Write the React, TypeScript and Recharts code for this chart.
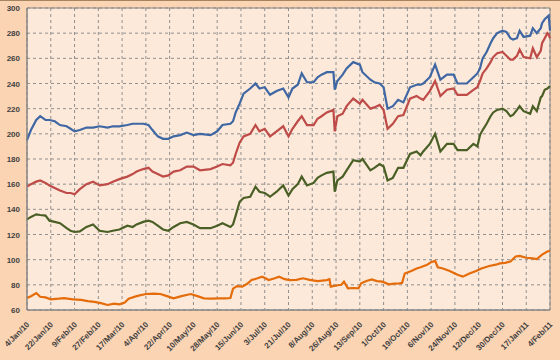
import { LineChart, Line, XAxis, YAxis, CartesianGrid, ReferenceArea } from 'recharts'

// day offsets from 4 Jan 2010, shared by the three upper series
const days = [
  0, 3, 7, 10, 14, 17, 21, 25, 30, 33, 36, 40, 45, 50, 55, 61, 65, 70, 76, 80,
  83, 88, 92, 95, 99, 103, 107, 111, 116, 121, 126, 131, 139, 144, 148, 154, 156, 158, 161, 164,
  169, 173, 176, 180, 184, 189, 194, 198, 201, 205, 208, 212, 217, 220, 223, 227, 232, 233, 235, 239,
  242, 247, 252, 254, 260, 263, 267, 270, 273, 277, 281, 285, 290, 295, 298, 300, 305, 309, 313, 318,
  323, 326, 333, 338, 341, 343, 345, 348, 351, 353, 356, 360, 363, 366, 368, 371, 373, 376, 381, 383,
  386, 389, 390, 392, 394, 395, 396,
]

const blueValues = [
  195, 203, 211, 214, 211, 211, 210, 207, 206, 204, 202, 203, 205, 205, 206, 205, 206, 206, 207, 208,
  208, 208, 207, 203, 198, 196, 196, 198, 199, 201, 199, 200, 199, 202, 207, 208, 210, 217, 224, 232,
  236, 240, 236, 237, 231, 234, 236, 229, 236, 239, 248, 241, 241, 245, 247, 249, 249, 235, 242, 247,
  252, 257, 255, 249, 243, 241, 240, 237, 220, 222, 227, 225, 237, 239, 239, 240, 245, 255, 243, 247,
  247, 240, 240, 245, 248, 252, 260, 265, 272, 276, 280, 282, 281, 276, 275, 276, 282, 277, 278, 284,
  280, 284, 288, 291, 293, 294, 282,
]

const redValues = [
  158, 160, 162, 163, 161, 159, 157, 155, 153, 153, 152, 156, 160, 162, 159, 160, 162, 164, 166, 168,
  170, 172, 173, 170, 168, 166, 167, 170, 171, 174, 174, 171, 172, 174, 176, 175, 177, 184, 193, 198,
  200, 207, 202, 204, 198, 202, 206, 198, 204, 210, 214, 207, 207, 212, 214, 217, 219, 202, 214, 216,
  222, 228, 224, 227, 220, 221, 223, 219, 204, 208, 214, 215, 228, 230, 228, 227, 234, 242, 230, 235,
  236, 231, 231, 235, 237, 242, 248, 252, 257, 261, 264, 265, 262, 259, 259, 262, 267, 261, 260, 268,
  261, 266, 272, 276, 280, 279, 276,
]

const greenValues = [
  132, 134, 136, 135.5, 135, 131, 130, 129, 125, 123, 122, 122.5, 126, 128, 123, 122, 123, 124, 127, 126,
  128, 130, 131, 130, 127, 124, 123, 126, 129, 130, 128, 125, 125, 127, 129, 126, 128, 135, 146, 149,
  150, 158, 154, 153, 150, 154, 159, 151, 156, 160, 166, 159, 161, 165, 167, 169, 170, 154, 163, 166,
  171, 179, 178, 180, 171, 173, 176, 174, 163, 165, 173, 173, 184, 186, 183, 186, 192, 200, 186, 192,
  192, 187, 187, 192, 190, 199, 203, 208, 214, 217, 219, 220, 218, 214, 215, 219, 222, 218, 216, 222,
  218, 229, 230, 235, 236, 237, 238,
]

const orangeDays = [
  0, 3, 7, 10, 14, 18, 24, 28, 35, 41, 46, 51, 56, 61, 66, 70, 74, 77, 83, 90,
  96, 101, 106, 111, 117, 124, 129, 134, 140, 145, 150, 154, 156, 159, 163, 167, 170, 174, 178, 181,
  183, 187, 191, 195, 199, 204, 209, 214, 220, 227, 229, 230, 234, 238, 240, 243, 247, 251, 253, 257,
  261, 265, 269, 274, 278, 282, 284, 286, 291, 295, 298, 303, 306, 309, 311, 315, 320, 326, 330, 335,
  340, 344, 350, 355, 358, 362, 366, 370, 373, 378, 383, 386, 390, 394, 396,
]

const orangeValues = [
  69.5, 71, 73.5, 70.5, 70, 68.5, 69, 69.5, 68.5, 68, 67, 66.5, 65.5, 64, 65, 64.5, 66, 69, 71, 72.7,
  73, 72.7, 71, 69.3, 71, 72.7, 71, 69.3, 69, 69.3, 69.3, 69.5, 77, 79, 78.6, 81, 83.8, 85, 86.5, 85,
  83.8, 85, 86.5, 84.5, 83.8, 84, 85.2, 84, 83, 83.8, 84.5, 78.6, 79.5, 80, 82.5, 77.2, 77.5, 77.2, 81.2, 83,
  84.3, 83, 82.5, 80.4, 81, 81.2, 81.5, 89, 91, 93, 94, 96, 98, 99, 94, 93, 91, 88, 86.5, 89,
  91, 93, 95, 96, 97, 97.5, 98.5, 102.5, 103, 101.5, 101, 100.5, 104, 106.5, 107,
]

const xLabels = [
  '4/Jan/10', '22/Jan/10', '9/Feb/10', '27/Feb/10', '17/Mar/10', '4/Apr/10', '22/Apr/10',
  '10/May/10', '28/May/10', '15/Jun/10', '3/Jul/10', '21/Jul/10', '8/Aug/10', '26/Aug/10',
  '13/Sep/10', '1/Oct/10', '19/Oct/10', '6/Nov/10', '24/Nov/10', '12/Dec/10', '30/Dec/10',
  '17/Jan/11', '4/Feb/11',
]
const xTicks = xLabels.map((_, i) => i * 18)
const yTicks = [60, 80, 100, 120, 140, 160, 180, 200, 220, 240, 260, 280, 300]

const mainData = days.map((d, i) => ({
  day: d,
  a: blueValues[i],
  b: redValues[i],
  c: greenValues[i],
}))
const orangeData = orangeDays.map((d, i) => ({ day: d, d: orangeValues[i] }))

const font = '"Liberation Sans", Arial, sans-serif'

function XTick({ x, y, payload }: any) {
  const label = xLabels[Math.round(payload.value / 18)]
  const tx = x + 3
  const ty = y + 7
  return (
    <text
      x={tx}
      y={ty}
      textAnchor="end"
      transform={`rotate(-45, ${tx}, ${ty})`}
      fontFamily={font}
      fontSize={8}
      fontWeight="bold"
      fill="#3f3f3f"
    >
      {label}
    </text>
  )
}

function YTick({ y, payload }: any) {
  return (
    <text
      x={20}
      y={y + 3}
      textAnchor="end"
      fontFamily={font}
      fontSize={8}
      fontWeight="bold"
      fill="#3f3f3f"
    >
      {payload.value}
    </text>
  )
}

export default function App() {
  return (
    <div
      style={{
        position: 'absolute',
        left: 0,
        top: 0,
        width: 560,
        height: 360,
        background: '#FBD4B4',
        boxShadow: 'inset 0 1px 0 #a5845f',
      }}
    >
      <LineChart width={560} height={360} margin={{ top: 8, right: 10, left: 0, bottom: 0 }}>
        <CartesianGrid fill="#FDE9D9" stroke="#8f8f8f" strokeDasharray="3 3" />
        <XAxis
          dataKey="day"
          type="number"
          domain={[0, 396]}
          ticks={xTicks}
          interval={0}
          height={50}
          tick={<XTick />}
          tickLine={false}
          axisLine={{ stroke: '#868686' }}
          allowDuplicatedCategory={false}
        />
        <YAxis
          type="number"
          domain={[60, 300]}
          ticks={yTicks}
          interval={0}
          width={27}
          tick={<YTick />}
          tickLine={false}
          axisLine={{ stroke: '#868686' }}
        />
        <ReferenceArea
          x1={0}
          x2={396}
          y1={60}
          y2={300}
          fill="none"
          stroke="#868686"
          strokeWidth={1}
          ifOverflow="visible"
        />
        <Line
          data={mainData}
          dataKey="a"
          name="Series 1"
          type="linear"
          stroke="#3F67A3"
          strokeWidth={2.2}
          dot={false}
          isAnimationActive={false}
        />
        <Line
          data={mainData}
          dataKey="b"
          name="Series 2"
          type="linear"
          stroke="#BE4B48"
          strokeWidth={2.2}
          dot={false}
          isAnimationActive={false}
        />
        <Line
          data={mainData}
          dataKey="c"
          name="Series 3"
          type="linear"
          stroke="#4A5F25"
          strokeWidth={2.2}
          dot={false}
          isAnimationActive={false}
        />
        <Line
          data={orangeData}
          dataKey="d"
          name="Series 4"
          type="linear"
          stroke="#E46C0A"
          strokeWidth={2.2}
          dot={false}
          isAnimationActive={false}
        />
      </LineChart>
    </div>
  )
}
